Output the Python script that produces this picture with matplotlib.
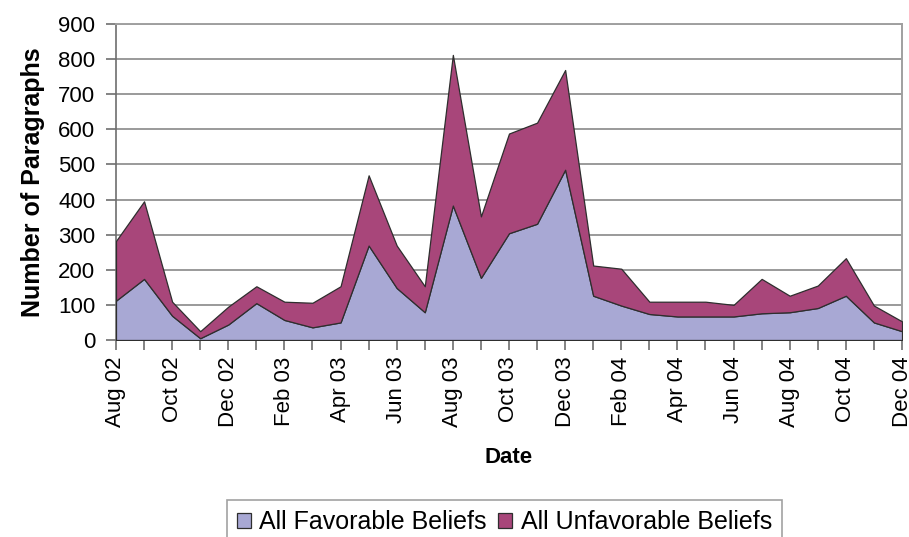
import matplotlib
matplotlib.use("Agg")
import matplotlib.pyplot as plt
import numpy as np

plt.rcParams['font.family'] = ['Liberation Sans', 'DejaVu Sans']

months = ["Aug 02", "Sep 02", "Oct 02", "Nov 02", "Dec 02", "Jan 03", "Feb 03", "Mar 03",
          "Apr 03", "May 03", "Jun 03", "Jul 03", "Aug 03", "Sep 03", "Oct 03", "Nov 03",
          "Dec 03", "Jan 04", "Feb 04", "Mar 04", "Apr 04", "May 04", "Jun 04", "Jul 04",
          "Aug 04", "Sep 04", "Oct 04", "Nov 04", "Dec 04"]

favorable = [112, 174, 69, 5, 44, 105, 57, 36, 50, 269, 148, 79, 383, 177, 304, 331,
             485, 126, 98, 74, 67, 67, 67, 76, 79, 91, 126, 50, 25]
totals = [282, 395, 109, 25, 95, 153, 109, 106, 153, 469, 269, 153, 812, 352, 588, 619,
          769, 212, 203, 109, 109, 109, 100, 174, 126, 155, 233, 98, 53]
unfavorable = [t - f for t, f in zip(totals, favorable)]

fav_color = "#A8A8D4"
unfav_color = "#A8467A"

fig = plt.figure(figsize=(9.09, 5.37), dpi=100)
ax = fig.add_axes([0.1276, 0.3669, 0.8647, 0.5884])

x = np.arange(len(months))
ax.stackplot(x, favorable, unfavorable, colors=[fav_color, unfav_color],
             edgecolor="#2e2e2e", linewidth=0.9,
             labels=["All Favorable Beliefs", "All Unfavorable Beliefs"], zorder=3)

ax.set_xlim(0, len(months) - 1)
ax.set_ylim(0, 900)
ax.set_yticks(np.arange(0, 901, 100))
ax.yaxis.grid(True, color="#9a9a9a", linewidth=1.4, zorder=1)
ax.set_axisbelow(True)

ax.set_xticks(x)
ax.set_xticklabels([m if i % 2 == 0 else "" for i, m in enumerate(months)],
                   rotation=90, va="top", ha="center")

ax.tick_params(axis="both", labelsize=16, color="#6e6e6e", length=7, width=1.2)
ax.tick_params(axis="x", pad=5)
ax.tick_params(axis="y", pad=8)

for side in ["top", "right"]:
    ax.spines[side].set_color("#a0a0a0")
    ax.spines[side].set_linewidth(1.4)
for side in ["left", "bottom"]:
    ax.spines[side].set_color("#6e6e6e")
    ax.spines[side].set_linewidth(1.2)

ax.set_ylabel("Number of Paragraphs", fontsize=18, fontweight="bold", labelpad=9)
ax.set_xlabel("Date", fontsize=16, fontweight="bold", labelpad=14)

leg = fig.legend(loc="upper center", bbox_to_anchor=(0.555, 0.068), ncol=2, fontsize=18,
                 frameon=True, fancybox=False, edgecolor="#8a8a8a", handlelength=0.55,
                 handleheight=0.55, handletextpad=0.35, columnspacing=0.45,
                 borderpad=0.4, borderaxespad=0)
leg.get_frame().set_linewidth(1.2)

fig.savefig("out.png", dpi=100, facecolor="white")
